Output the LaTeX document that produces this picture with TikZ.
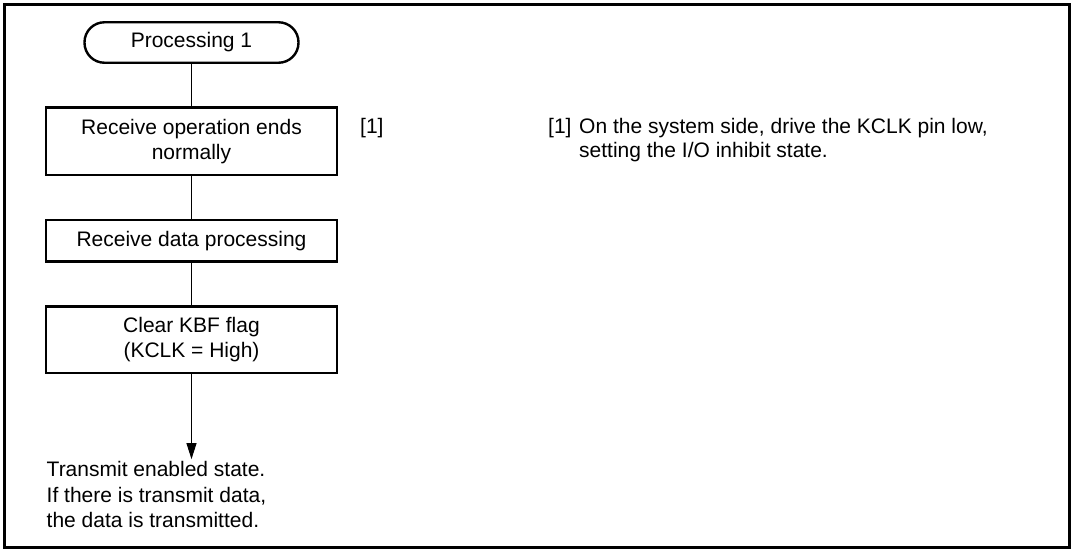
\documentclass[tikz,border=0pt]{standalone}
\usepackage{fontspec}
\setmainfont{Liberation Sans}
\usetikzlibrary{arrows.meta,positioning}

\begin{document}
\begin{tikzpicture}[x=1pt,y=1pt,font=\fontsize{21}{24.5}\selectfont,node distance=42.5pt,box/.style={draw,line width=2.4pt,align=center,minimum width=291.5pt,inner sep=0pt},term/.style={draw,line width=2.4pt,rounded corners=20pt,minimum width=214pt,minimum height=40.5pt,inner sep=0pt},link/.style={line width=1pt},arr/.style={-{Triangle[length=16pt,width=10pt]},line width=1pt},note/.style={inner sep=0pt,align=left}]
\useasboundingbox (0,0) rectangle (1074,-550);
\draw[line width=3pt] (4.5,-4.5) rectangle (1069.5,-547.5);
\node[term] (start) at (191.5,-42.5) {Processing 1};
\node[box,minimum height=67.5pt,below=of start] (recv) {Receive operation ends\\normally};
\node[box,minimum height=41.5pt,below=of recv] (proc) {Receive data processing};
\node[box,minimum height=66.5pt,below=of proc] (clear) {Clear KBF flag\\(KCLK = High)};
\coordinate[below=85pt of clear] (done);
\draw[link] (start)--(recv); \draw[link] (recv)--(proc); \draw[link] (proc)--(clear); \draw[arr] (clear)--(done);
\node[note,anchor=north west,font=\fontsize{21}{25.5}\selectfont] (result) at (46.5,-461.5) {Transmit enabled state.\\If there is transmit data,\\the data is transmitted.};
\node[note,anchor=base west] (mark) at (360,-133) {[1]};
\node[note,anchor=base west] (noteref) at (548,-133) {[1]};
\node[note,anchor=north west] (notetext) at (579,-117.7) {On the system side, drive the KCLK pin low,\\setting the I/O inhibit state.};
\end{tikzpicture}
\end{document}
